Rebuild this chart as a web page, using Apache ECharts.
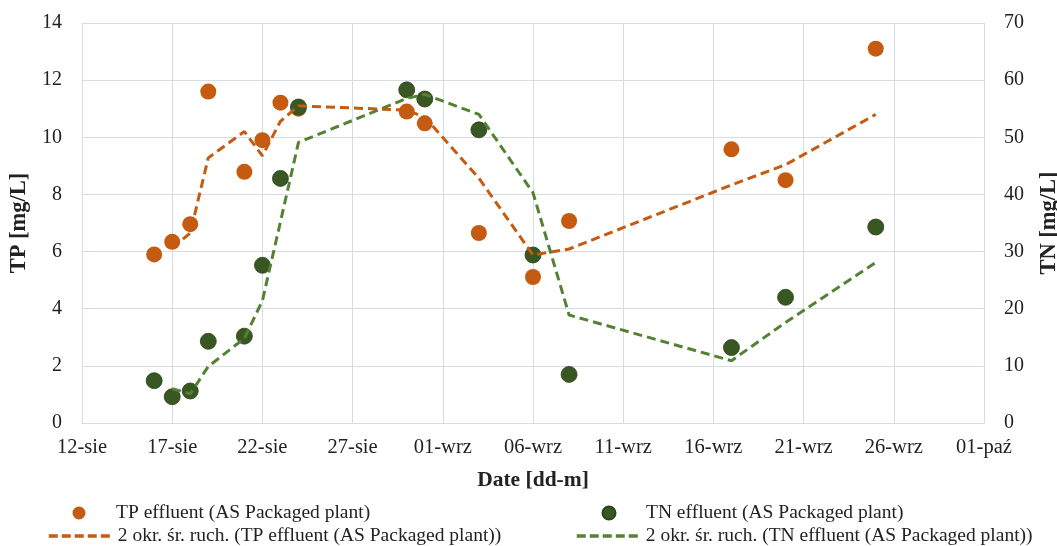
<!DOCTYPE html>
<html>
<head>
<meta charset="utf-8">
<script src="https://cdn.jsdelivr.net/npm/echarts@6/dist/echarts.min.js"></script>
<style>html,body{margin:0;padding:0;background:#fff;}#c{width:1057px;height:546px;}</style>
</head>
<body>
<div id="c"></div>
<script>
// ---- data ----
var startDate = '2021-08-12';
var dates = ['2021-08-16','2021-08-17','2021-08-18','2021-08-19','2021-08-21','2021-08-22','2021-08-23','2021-08-24',
             '2021-08-30','2021-08-31','2021-09-03','2021-09-06','2021-09-08','2021-09-17','2021-09-20','2021-09-25'];
var tpValues = [5.90, 6.34, 6.96, 11.60, 8.79, 9.90, 11.21, 11.00, 10.90, 10.49, 6.65, 5.11, 7.07, 9.58, 8.50, 13.10];
var tnValues = [7.4, 4.6, 5.6, 14.3, 15.2, 27.6, 42.8, 55.3, 58.3, 56.7, 51.3, 29.4, 8.5, 13.2, 22.0, 34.3];
var maDates = dates.slice(1);
var tpMA = [6.12, 6.65, 9.28, 10.20, 9.35, 10.56, 11.10, 10.95, 10.70, 8.57, 5.88, 6.09, 8.33, 9.04, 10.80];
var tnMA = [6.0, 5.1, 9.9, 14.8, 21.4, 35.2, 49.1, 56.8, 57.5, 54.0, 40.3, 18.9, 10.9, 17.6, 28.1];
var tickLabels = ['12-sie','17-sie','22-sie','27-sie','01-wrz','06-wrz','11-wrz','16-wrz','21-wrz','26-wrz','01-paź'];
var names = ['TP effluent (AS Packaged plant)', 'TN effluent (AS Packaged plant)',
             '2 okr. śr. ruch. (TP effluent (AS Packaged plant))', '2 okr. śr. ruch. (TN effluent (AS Packaged plant))'];

function day(s) { return (Date.parse(s) - Date.parse(startDate)) / 864e5; }
function pairs(ds, vs) { return ds.map(function (d, i) { return [day(d), vs[i]]; }); }

var ORANGE = '#C55A11', GREEN = '#385723', GREEN_L = '#548235';
var FONT = 'Liberation Serif', TXT = '#222';
var GRID = '#D6DCE4';
// circle centred in a 64x13 box (degenerate end points fix the box width)
var CIRCLE = 'path://M0,6.5L0.01,6.5M64,6.5L63.99,6.5M38.5,6.5A6.5,6.5,0,1,1,25.5,6.5A6.5,6.5,0,1,1,38.5,6.5Z';

var chart = echarts.init(document.getElementById('c'), null, {renderer: 'canvas'});
function legend(name, left, top, isLine) {
  var l = {
    data: [name], left: left, top: top, orient: 'horizontal', padding: 0,
    itemWidth: 64, itemHeight: 13, selectedMode: false,
    textStyle: {fontFamily: FONT, fontSize: 19.5, color: TXT, lineHeight: 20}
  };
  if (isLine) {
    l.itemStyle = {opacity: 0};
    l.lineStyle = {width: 3.5, type: [9, 4]};
  } else {
    l.icon = CIRCLE;
    l.symbolKeepAspect = false;
  }
  return l;
}
chart.setOption({
  animation: false,
  backgroundColor: '#fff',
  grid: {left: 82, right: 73, top: 23, bottom: 123, containLabel: false, outerBoundsMode: 'none'},
  legend: [
    legend(names[0], 47, 503, false),
    legend(names[2], 47, 526, true),
    legend(names[1], 576, 503, false),
    legend(names[3], 575, 526, true)
  ],
  xAxis: {
    type: 'value', min: 0, max: 50, interval: 5,
    name: 'Date [dd-m]', nameLocation: 'middle', nameGap: 46,
    nameTextStyle: {fontFamily: FONT, fontSize: 21.5, fontWeight: 'bold', color: TXT},
    axisLine: {show: true, lineStyle: {color: GRID, width: 1}},
    axisTick: {show: false},
    splitLine: {show: true, lineStyle: {color: GRID, width: 1}},
    axisLabel: {
      fontFamily: FONT, fontSize: 20.5, color: TXT, margin: 14,
      formatter: function (v) { return tickLabels[Math.round(v / 5)]; }
    }
  },
  yAxis: [
    {
      type: 'value', min: 0, max: 14, interval: 2, position: 'left',
      name: 'TP [mg/L]', nameLocation: 'middle', nameGap: 46, nameRotate: 90,
      nameTextStyle: {fontFamily: FONT, fontSize: 22.5, fontWeight: 'bold', color: TXT},
      axisLine: {show: false}, axisTick: {show: false},
      splitLine: {show: true, lineStyle: {color: GRID, width: 1}},
      axisLabel: {fontFamily: FONT, fontSize: 20, color: TXT, margin: 20}
    },
    {
      type: 'value', min: 0, max: 70, interval: 10, position: 'right',
      name: 'TN [mg/L]', nameLocation: 'middle', nameGap: 54, nameRotate: 90,
      nameTextStyle: {fontFamily: FONT, fontSize: 22.5, fontWeight: 'bold', color: TXT},
      axisLine: {show: false}, axisTick: {show: false},
      splitLine: {show: false},
      axisLabel: {fontFamily: FONT, fontSize: 20, color: TXT, margin: 20}
    }
  ],
  series: [
    {
      name: names[0], type: 'scatter', yAxisIndex: 0, symbol: 'circle', symbolSize: 16, z: 2,
      itemStyle: {color: ORANGE, opacity: 1},
      data: pairs(dates, tpValues)
    },
    {
      name: names[1], type: 'scatter', yAxisIndex: 1, symbol: 'circle', symbolSize: 16, z: 2,
      itemStyle: {color: GREEN, borderColor: '#2A451A', borderWidth: 0.8, opacity: 1},
      data: pairs(dates, tnValues)
    },
    {
      name: names[2], type: 'line', yAxisIndex: 0, showSymbol: false, symbol: 'none', z: 3,
      itemStyle: {color: ORANGE},
      lineStyle: {color: ORANGE, width: 3, type: [9, 5]},
      data: pairs(maDates, tpMA)
    },
    {
      name: names[3], type: 'line', yAxisIndex: 1, showSymbol: false, symbol: 'none', z: 3,
      itemStyle: {color: GREEN_L},
      lineStyle: {color: GREEN_L, width: 3, type: [9, 5]},
      data: pairs(maDates, tnMA)
    }
  ]
});
</script>
</body>
</html>
